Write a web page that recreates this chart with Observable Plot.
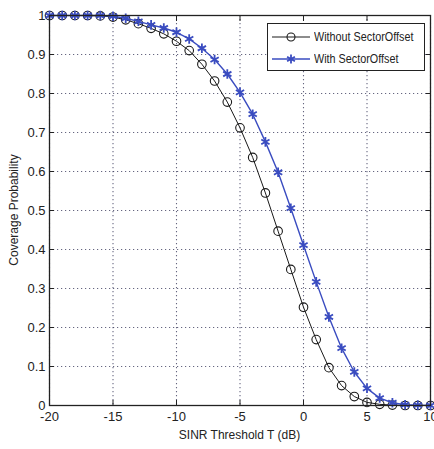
<!DOCTYPE html>
<html><head><meta charset="utf-8">
<script src="https://cdn.jsdelivr.net/npm/d3@7"></script>
<script src="https://cdn.jsdelivr.net/npm/@observablehq/plot@0.6"></script>
<style>
body{margin:0;background:#fff;}
#wrap{position:relative;width:434px;height:449px;font-family:"Liberation Sans",Arial,sans-serif;color:#222;}
#legend{position:absolute;left:267px;top:23px;width:156px;height:46px;border:1.3px solid #222;background:#fff;font-size:12px;}
#legend .row{position:absolute;left:4px;height:16px;display:flex;align-items:center;white-space:nowrap;}
#legend svg{margin-right:2px;}
#legend span{display:inline-block;transform:scaleX(0.9);transform-origin:left center;}
#xlabel{position:absolute;left:49px;width:381px;top:428px;text-align:center;font-size:12px;white-space:nowrap;}
#ylabel{position:absolute;left:14px;top:210px;font-size:12px;white-space:nowrap;transform:translate(-50%,-50%) rotate(-90deg);}
</style></head>
<body><div id="wrap"><div id="chart"></div><div id="legend"></div><div id="xlabel"></div><div id="ylabel"></div></div>
<script>
const snr = [-20,-19,-18,-17,-16,-15,-14,-13,-12,-11,-10,-9,-8,-7,-6,-5,-4,-3,-2,-1,0,1,2,3,4,5,6,7,8,9,10];
const withoutOffset = [1.000,1.000,1.000,1.000,0.999,0.996,0.989,0.979,0.967,0.953,0.934,0.910,0.875,0.832,0.778,0.712,0.636,0.545,0.447,0.349,0.252,0.169,0.097,0.051,0.023,0.008,0.003,0.001,0.000,0.000,0.000];
const withOffset    = [1.000,1.000,1.000,1.000,1.000,0.998,0.993,0.985,0.976,0.968,0.957,0.940,0.916,0.887,0.850,0.803,0.747,0.676,0.598,0.506,0.411,0.317,0.227,0.147,0.086,0.044,0.019,0.007,0.002,0.001,0.000];
const seriesNames = ["Without SectorOffset","With SectorOffset"];
const xTicks = [-20,-15,-10,-5,0,5,10];
const yTicks = [0,0.1,0.2,0.3,0.4,0.5,0.6,0.7,0.8,0.9,1];
const xLabel = "SINR Threshold T (dB)";
const yLabel = "Coverage Probability";
const colors = ["#1a1a1a","#3a4cc0"];

const rowsA = snr.map((x,i)=>({x, y: withoutOffset[i]}));
const rowsB = snr.map((x,i)=>({x, y: withOffset[i]}));

const chart = Plot.plot({
  width: 434, height: 449,
  marginLeft: 49, marginRight: 4, marginTop: 15, marginBottom: 44,
  style: {fontFamily: '"Liberation Sans",Arial,sans-serif', fontSize: "13px", color: "#222", background: "#fff"},
  x: {domain: [-20,10]},
  y: {domain: [0,1]},
  marks: [
    Plot.gridX(xTicks, {stroke: "#335", strokeOpacity: 0.75, strokeDasharray: "1.2,2.8", strokeWidth: 1.1}),
    Plot.gridY(yTicks, {stroke: "#335", strokeOpacity: 0.75, strokeDasharray: "1.2,2.8", strokeWidth: 1.1}),
    Plot.axisX(xTicks, {anchor: "bottom", tickSize: -5, tickPadding: 11, tickFormat: d=>String(d), label: null, stroke: "#222", fontSize: 13}),
    Plot.axisX(xTicks, {anchor: "top", tickSize: -5, tickFormat: ()=>"", label: null, stroke: "#222"}),
    Plot.axisY(yTicks, {anchor: "left", tickSize: -5, tickPadding: 9, tickFormat: d=>String(d), label: null, stroke: "#222", fontSize: 13}),
    Plot.axisY(yTicks, {anchor: "right", tickSize: -5, tickFormat: ()=>"", label: null, stroke: "#222"}),
    Plot.line(rowsA, {x: "x", y: "y", stroke: colors[0], strokeWidth: 1}),
    Plot.dot(rowsA, {x: "x", y: "y", r: 4.3, stroke: colors[0], strokeWidth: 1.1, fill: "none"}),
    Plot.line(rowsB, {x: "x", y: "y", stroke: colors[1], strokeWidth: 1.4}),
    Plot.dot(rowsB, {x: "x", y: "y", r: 4.5, symbol: "asterisk", stroke: colors[1], strokeWidth: 1.8}),
    Plot.frame({stroke: "#222", strokeWidth: 1.3})
  ]
});
document.getElementById("chart").appendChild(chart);
document.getElementById("xlabel").textContent = xLabel;
document.getElementById("ylabel").textContent = yLabel;

const legend = document.getElementById("legend");
const markers = [
  `<line x1="0" y1="8" x2="38" y2="8" stroke="${colors[0]}" stroke-width="1"/><circle cx="19" cy="8" r="4" fill="none" stroke="${colors[0]}" stroke-width="1.1"/>`,
  `<line x1="0" y1="8" x2="38" y2="8" stroke="${colors[1]}" stroke-width="1.4"/><path d="M19,3.5v9M15.1,5.75l7.8,4.5M15.1,10.25l7.8,-4.5" stroke="${colors[1]}" stroke-width="1.8"/>`
];
seriesNames.forEach((name,i)=>{
  const row = document.createElement("div");
  row.className = "row";
  row.style.top = (5 + i*22) + "px";
  row.innerHTML = `<svg width="40" height="16">${markers[i]}</svg><span>${name}</span>`;
  legend.appendChild(row);
});
</script>
</body></html>
